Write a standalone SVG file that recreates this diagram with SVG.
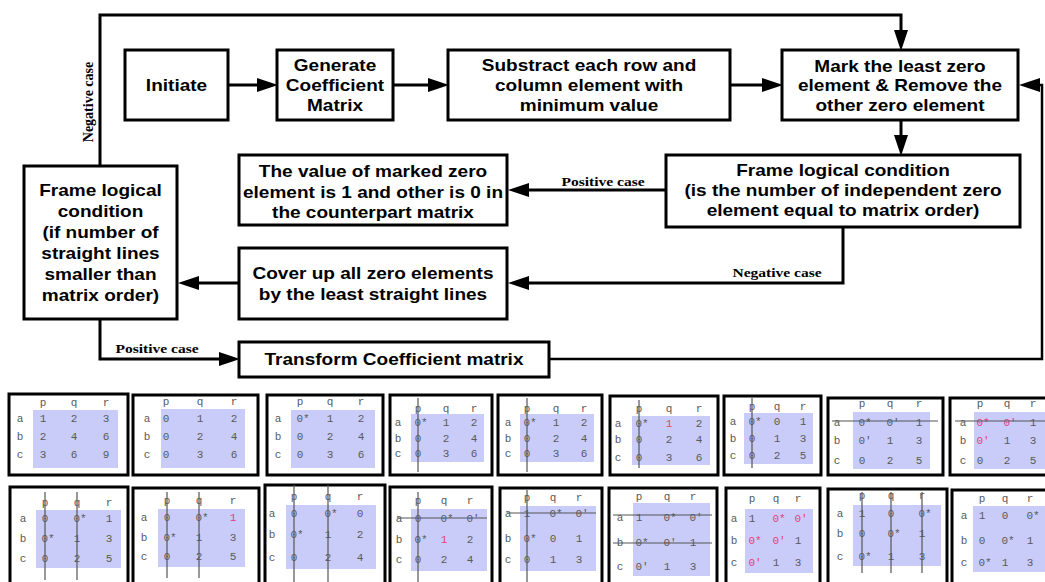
<svg xmlns="http://www.w3.org/2000/svg" width="1045" height="582" viewBox="0 0 1045 582">
<style>
.box{fill:#fff;stroke:#000;stroke-width:3}
.bt{font-family:"Liberation Sans",Arial,sans-serif;font-weight:bold;font-size:17px;text-anchor:middle;fill:#000}
.lb{font-family:"Liberation Serif","Times New Roman",serif;font-weight:bold;font-size:13.5px;text-anchor:middle;fill:#000}
.cn{fill:none;stroke:#000;stroke-width:3}
.mb{fill:#fff;stroke:#000;stroke-width:3}
.sh{fill:#c9ccf9}
.mt{font-family:"Liberation Mono","Courier New",monospace;font-size:11px;text-anchor:middle;fill:#5a5a5a}
.pk{fill:#e2407c}
.rd{fill:#e84a4a}
.ml{stroke:#555;stroke-width:1.2;fill:none}
</style>
<defs>
<marker id="ah" markerUnits="userSpaceOnUse" markerWidth="21" markerHeight="14" refX="10" refY="7" orient="auto">
<path d="M0,0 L21,7 L0,14 z" fill="#000"/>
</marker>
</defs>

<g id="n-initiate"><rect class="box" x="125" y="50" width="103" height="70"/>
<text class="bt" transform="translate(176.5 0) scale(1.12 1)"><tspan x="0" y="91">Initiate</tspan></text></g>

<g id="n-generate"><rect class="box" x="277" y="50" width="116" height="70"/>
<text class="bt" transform="translate(335 0) scale(1.12 1)"><tspan x="0" y="71">Generate</tspan><tspan x="0" y="91">Coefficient</tspan><tspan x="0" y="111">Matrix</tspan></text></g>

<g id="n-substract"><rect class="box" x="448" y="50" width="282" height="70"/>
<text class="bt" transform="translate(589 0) scale(1.12 1)"><tspan x="0" y="71">Substract each row and</tspan><tspan x="0" y="91">column element with</tspan><tspan x="0" y="111">minimum value</tspan></text></g>

<g id="n-mark"><rect class="box" x="782" y="50" width="236" height="70"/>
<text class="bt" transform="translate(900 0) scale(1.12 1)"><tspan x="0" y="72">Mark the least zero</tspan><tspan x="0" y="91">element &amp; Remove the</tspan><tspan x="0" y="111">other zero element</tspan></text></g>

<g id="n-frame-right"><rect class="box" x="666" y="155" width="354" height="72"/>
<text class="bt" transform="translate(843 0) scale(1.12 1)"><tspan x="0" y="176">Frame logical condition</tspan><tspan x="0" y="196">(is the number of independent zero</tspan><tspan x="0" y="216">element equal to matrix order)</tspan></text></g>

<g id="n-value"><rect class="box" x="239" y="155" width="268" height="70"/>
<text class="bt" transform="translate(373 0) scale(1.12 1)"><tspan x="0" y="177">The value of marked zero</tspan><tspan x="0" y="198">element is 1 and other is 0 in</tspan><tspan x="0" y="218">the counterpart matrix</tspan></text></g>

<g id="n-cover"><rect class="box" x="239" y="248" width="268" height="71"/>
<text class="bt" transform="translate(373 0) scale(1.12 1)"><tspan x="0" y="279">Cover up all zero elements</tspan><tspan x="0" y="300">by the least straight lines</tspan></text></g>

<g id="n-frame-left"><rect class="box" x="24" y="166" width="153" height="153"/>
<text class="bt" transform="translate(100.5 0) scale(1.12 1)"><tspan x="0" y="196">Frame logical</tspan><tspan x="0" y="217">condition</tspan><tspan x="0" y="238">(if number of</tspan><tspan x="0" y="259">straight lines</tspan><tspan x="0" y="280">smaller than</tspan><tspan x="0" y="301">matrix order)</tspan></text></g>

<g id="n-transform"><rect class="box" x="239" y="342" width="310" height="35"/>
<text class="bt" transform="translate(394 0) scale(1.12 1)"><tspan x="0" y="365">Transform Coefficient matrix</tspan></text></g>

<g id="connectors">
<path class="cn" d="M228,85 H267" marker-end="url(#ah)"/>
<path class="cn" d="M393,85 H438" marker-end="url(#ah)"/>
<path class="cn" d="M730,85 H772" marker-end="url(#ah)"/>
<path class="cn" d="M901,120 V145" marker-end="url(#ah)"/>
<path class="cn" d="M666,190 H519" marker-end="url(#ah)"/>
<path class="cn" d="M843,227 V283 H519" marker-end="url(#ah)"/>
<path class="cn" d="M239,283 H189" marker-end="url(#ah)"/>
<path class="cn" d="M100,166 V15 H901 V40" marker-end="url(#ah)"/>
<path class="cn" d="M100,319 V359 H229" marker-end="url(#ah)"/>
<path class="cn" d="M549,359 H1042 V85 H1030" marker-end="url(#ah)" style="stroke-width:2.5"/>
<text class="lb" transform="translate(603 0) scale(1.15 1)"><tspan x="0" y="186">Positive case</tspan></text>
<text class="lb" transform="translate(777 0) scale(1.15 1)"><tspan x="0" y="277">Negative case</tspan></text>
<text class="lb" transform="translate(157 0) scale(1.15 1)"><tspan x="0" y="353">Positive case</tspan></text>
<text class="lb" transform="translate(93 102) rotate(-90)" style="font-size:14px"><tspan x="0" y="0">Negative case</tspan></text>
</g>

<g id="m1"><rect class="mb" x="9" y="394" width="119" height="81"/><rect class="sh" x="33" y="410" width="85" height="58"/>
<g class="mt"><text x="43" y="406">p</text><text x="74" y="406">q</text><text x="106" y="406">r</text>
<text x="20" y="422">a</text><text x="20" y="440">b</text><text x="20" y="458">c</text>
<text x="43" y="422">1</text><text x="74" y="422">2</text><text x="106" y="422">3</text>
<text x="43" y="440">2</text><text x="74" y="440">4</text><text x="106" y="440">6</text>
<text x="43" y="458">3</text><text x="74" y="458">6</text><text x="106" y="458">9</text></g></g>

<g id="m2"><rect class="mb" x="133" y="395" width="125" height="80"/><rect class="sh" x="161" y="409" width="84" height="59"/>
<g class="mt"><text x="166" y="405">p</text><text x="200" y="405">q</text><text x="234" y="405">r</text>
<text x="147" y="422">a</text><text x="147" y="440">b</text><text x="147" y="458">c</text>
<text x="166" y="422">0</text><text x="200" y="422">1</text><text x="234" y="422">2</text>
<text x="166" y="440">0</text><text x="200" y="440">2</text><text x="234" y="440">4</text>
<text x="166" y="458">0</text><text x="200" y="458">3</text><text x="234" y="458">6</text></g></g>

<g id="m3"><rect class="mb" x="267" y="395" width="116" height="80"/><rect class="sh" x="291" y="410" width="84" height="58"/>
<g class="mt"><text x="300" y="405">p</text><text x="330" y="405">q</text><text x="361" y="405">r</text>
<text x="278" y="422">a</text><text x="278" y="440">b</text><text x="278" y="458">c</text>
<text x="303" y="422">0*</text><text x="330" y="422">1</text><text x="361" y="422">2</text>
<text x="300" y="440">0</text><text x="330" y="440">2</text><text x="361" y="440">4</text>
<text x="300" y="458">0</text><text x="330" y="458">3</text><text x="361" y="458">6</text></g></g>

<g id="m4"><rect class="mb" x="390" y="395" width="102" height="80"/><rect class="sh" x="411" y="414" width="73" height="48"/>
<g class="mt"><text x="418" y="412">p</text><text x="446" y="412">q</text><text x="474" y="412">r</text>
<text x="398" y="426">a</text><text x="398" y="442">b</text><text x="398" y="457">c</text>
<text x="421" y="426">0*</text><text x="446" y="426">1</text><text x="474" y="426">2</text>
<text x="418" y="442">0</text><text x="446" y="442">2</text><text x="474" y="442">4</text>
<text x="418" y="457">0</text><text x="446" y="457">3</text><text x="474" y="457">6</text></g>
<path class="ml" d="M418,398 V472"/></g>

<g id="m5"><rect class="mb" x="498" y="395" width="104" height="80"/><rect class="sh" x="520" y="414" width="74" height="48"/>
<g class="mt"><text x="527" y="412">p</text><text x="556" y="412">q</text><text x="584" y="412">r</text>
<text x="508" y="426">a</text><text x="508" y="442">b</text><text x="508" y="457">c</text>
<text x="530" y="426">0*</text><text x="556" y="426">1</text><text x="584" y="426">2</text>
<text x="527" y="442">0</text><text x="556" y="442">2</text><text x="584" y="442">4</text>
<text x="527" y="457">0</text><text x="556" y="457">3</text><text x="584" y="457">6</text></g>
<path class="ml" d="M527,398 V472"/></g>

<g id="m6"><rect class="mb" x="610" y="396" width="108" height="79"/><rect class="sh" x="632" y="416" width="78" height="49"/>
<g class="mt"><text x="639" y="412">p</text><text x="669" y="412">q</text><text x="699" y="412">r</text>
<text x="618" y="427">a</text><text x="618" y="443">b</text><text x="618" y="461">c</text>
<text x="642" y="427">0*</text><text x="669" y="427" class="rd">1</text><text x="699" y="427">2</text>
<text x="639" y="443">0</text><text x="669" y="443">2</text><text x="699" y="443">4</text>
<text x="639" y="461">0</text><text x="669" y="461">3</text><text x="699" y="461">6</text></g>
<path class="ml" d="M639,400 V468"/></g>

<g id="m7"><rect class="mb" x="724" y="396" width="97" height="79"/><rect class="sh" x="744" y="413" width="69" height="51"/>
<g class="mt"><text x="752" y="410">p</text><text x="777" y="410">q</text><text x="803" y="410">r</text>
<text x="733" y="425">a</text><text x="733" y="442">b</text><text x="733" y="459">c</text>
<text x="755" y="425">0*</text><text x="777" y="425">0</text><text x="803" y="425">1</text>
<text x="752" y="442">0</text><text x="777" y="442">1</text><text x="803" y="442">3</text>
<text x="752" y="459">0</text><text x="777" y="459">2</text><text x="803" y="459">5</text></g>
<path class="ml" d="M752,398 V468"/></g>

<g id="m8"><rect class="mb" x="828" y="398" width="115" height="77"/><rect class="sh" x="853" y="412" width="77" height="57"/>
<g class="mt"><text x="862" y="407">p</text><text x="890" y="407">q</text><text x="919" y="407">r</text>
<text x="837" y="426">a</text><text x="837" y="444">b</text><text x="837" y="464">c</text>
<text x="865" y="426">0*</text><text x="893" y="426">0'</text><text x="919" y="426">1</text>
<text x="865" y="444">0'</text><text x="890" y="444">1</text><text x="919" y="444">3</text>
<text x="862" y="464">0</text><text x="890" y="464">2</text><text x="919" y="464">5</text></g>
<path class="ml" d="M832,421 H938"/></g>

<g id="m9"><rect class="mb" x="950" y="398" width="110" height="77"/><rect class="sh" x="974" y="412" width="80" height="57"/>
<g class="mt"><text x="980" y="407">p</text><text x="1007" y="407">q</text><text x="1033" y="407">r</text>
<text x="963" y="426">a</text><text x="963" y="444">b</text><text x="963" y="464">c</text>
<text x="983" y="426" class="pk">0*</text><text x="1010" y="426" class="pk">0'</text><text x="1033" y="426">1</text>
<text x="983" y="444" class="pk">0'</text><text x="1007" y="444">1</text><text x="1033" y="444">3</text>
<text x="980" y="464">0</text><text x="1007" y="464">2</text><text x="1033" y="464">5</text></g>
<path class="ml" d="M955,421 H1045"/></g>

<g id="m10"><rect class="mb" x="10" y="487" width="118" height="110"/><rect class="sh" x="36" y="510" width="85" height="58"/>
<g class="mt"><text x="45" y="506">p</text><text x="77" y="506">q</text><text x="109" y="506">r</text>
<text x="23" y="522">a</text><text x="23" y="542">b</text><text x="23" y="562">c</text>
<text x="45" y="522">0</text><text x="80" y="522">0*</text><text x="109" y="522">1</text>
<text x="48" y="542">0*</text><text x="77" y="542">1</text><text x="109" y="542">3</text>
<text x="45" y="562">0</text><text x="77" y="562">2</text><text x="109" y="562">5</text></g>
<path class="ml" d="M45,492 V580 M77,492 V580"/></g>

<g id="m11"><rect class="mb" x="133" y="488" width="126" height="110"/><rect class="sh" x="158" y="509" width="87" height="58"/>
<g class="mt"><text x="167" y="504">p</text><text x="199" y="504">q</text><text x="233" y="504">r</text>
<text x="144" y="521">a</text><text x="144" y="541">b</text><text x="144" y="560">c</text>
<text x="167" y="521">0</text><text x="202" y="521">0*</text><text x="233" y="521" class="pk">1</text>
<text x="170" y="541">0*</text><text x="199" y="541">1</text><text x="233" y="541">3</text>
<text x="167" y="560">0</text><text x="199" y="560">2</text><text x="233" y="560">5</text></g>
<path class="ml" d="M167,492 V578 M199,492 V578"/></g>

<g id="m12"><rect class="mb" x="265" y="485" width="120" height="110"/><rect class="sh" x="286" y="505" width="90" height="64"/>
<g class="mt"><text x="294" y="500">p</text><text x="328" y="500">q</text><text x="360" y="500">r</text>
<text x="272" y="517">a</text><text x="272" y="538">b</text><text x="272" y="561">c</text>
<text x="294" y="517">0</text><text x="331" y="517">0*</text><text x="360" y="517">0</text>
<text x="297" y="538">0*</text><text x="328" y="538">1</text><text x="360" y="538">2</text>
<text x="294" y="561">0</text><text x="328" y="561">2</text><text x="360" y="561">4</text></g>
<path class="ml" d="M294,485 V582 M328,485 V582"/></g>

<g id="m13"><rect class="mb" x="390" y="487" width="102" height="110"/><rect class="sh" x="411" y="509" width="76" height="62"/>
<g class="mt"><text x="418" y="504">p</text><text x="444" y="504">q</text><text x="470" y="504">r</text>
<text x="399" y="522">a</text><text x="399" y="543">b</text><text x="399" y="563">c</text>
<text x="418" y="522">0</text><text x="447" y="522">0*</text><text x="473" y="522">0'</text>
<text x="421" y="543">0*</text><text x="444" y="543" class="pk">1</text><text x="470" y="543">2</text>
<text x="418" y="563">0</text><text x="444" y="563">2</text><text x="470" y="563">4</text></g>
<path class="ml" d="M418,492 V582 M397,518 H487"/></g>

<g id="m14"><rect class="mb" x="500" y="488" width="102" height="110"/><rect class="sh" x="520" y="506" width="76" height="65"/>
<g class="mt"><text x="527" y="501">p</text><text x="553" y="501">q</text><text x="579" y="501">r</text>
<text x="508" y="517">a</text><text x="508" y="542">b</text><text x="508" y="563">c</text>
<text x="527" y="517">1</text><text x="556" y="517">0*</text><text x="582" y="517">0'</text>
<text x="530" y="542">0*</text><text x="553" y="542">0</text><text x="579" y="542">1</text>
<text x="527" y="563">0</text><text x="553" y="563">1</text><text x="579" y="563">3</text></g>
<path class="ml" d="M527,490 V582 M507,513 H596"/></g>

<g id="m15"><rect class="mb" x="609" y="488" width="108" height="110"/><rect class="sh" x="633" y="503" width="77" height="73"/>
<g class="mt"><text x="639" y="500">p</text><text x="667" y="500">q</text><text x="693" y="500">r</text>
<text x="620" y="521">a</text><text x="620" y="546">b</text><text x="620" y="570">c</text>
<text x="639" y="521">1</text><text x="670" y="521">0*</text><text x="696" y="521">0'</text>
<text x="642" y="546">0*</text><text x="670" y="546">0'</text><text x="693" y="546">1</text>
<text x="642" y="570">0'</text><text x="667" y="570">1</text><text x="693" y="570">3</text></g>
<path class="ml" d="M613,515 H712 M613,543 H712"/></g>

<g id="m16"><rect class="mb" x="726" y="488" width="94" height="110"/><rect class="sh" x="745" y="509" width="68" height="64"/>
<g class="mt"><text x="752" y="502">p</text><text x="776" y="502">q</text><text x="798" y="502">r</text>
<text x="734" y="522">a</text><text x="734" y="544">b</text><text x="734" y="566">c</text>
<text x="752" y="522">1</text><text x="779" y="522" class="pk">0*</text><text x="801" y="522" class="pk">0'</text>
<text x="755" y="544" class="pk">0*</text><text x="779" y="544" class="pk">0'</text><text x="798" y="544">1</text>
<text x="755" y="566" class="pk">0'</text><text x="776" y="566">1</text><text x="798" y="566">3</text></g></g>

<g id="m17"><rect class="mb" x="828" y="489" width="119" height="110"/><rect class="sh" x="853" y="505" width="88" height="61"/>
<g class="mt"><text x="862" y="499">p</text><text x="891" y="499">q</text><text x="922" y="499">r</text>
<text x="840" y="517">a</text><text x="840" y="537">b</text><text x="840" y="560">c</text>
<text x="862" y="517">1</text><text x="891" y="517">0</text><text x="925" y="517">0*</text>
<text x="862" y="537">0</text><text x="894" y="537">0*</text><text x="922" y="537">1</text>
<text x="865" y="560">0*</text><text x="891" y="560">1</text><text x="922" y="560">3</text></g>
<path class="ml" d="M862,492 V573 M891,492 V573 M922,492 V573"/></g>

<g id="m18"><rect class="mb" x="952" y="490" width="110" height="110"/><rect class="sh" x="973" y="506" width="80" height="66"/>
<g class="mt"><text x="982" y="502">p</text><text x="1005" y="502">q</text><text x="1030" y="502">r</text>
<text x="964" y="519">a</text><text x="964" y="544">b</text><text x="964" y="566">c</text>
<text x="982" y="519">1</text><text x="1005" y="519">0</text><text x="1033" y="519">0*</text>
<text x="982" y="544">0</text><text x="1008" y="544">0*</text><text x="1030" y="544">1</text>
<text x="985" y="566">0*</text><text x="1005" y="566">1</text><text x="1030" y="566">3</text></g></g>
</svg>
